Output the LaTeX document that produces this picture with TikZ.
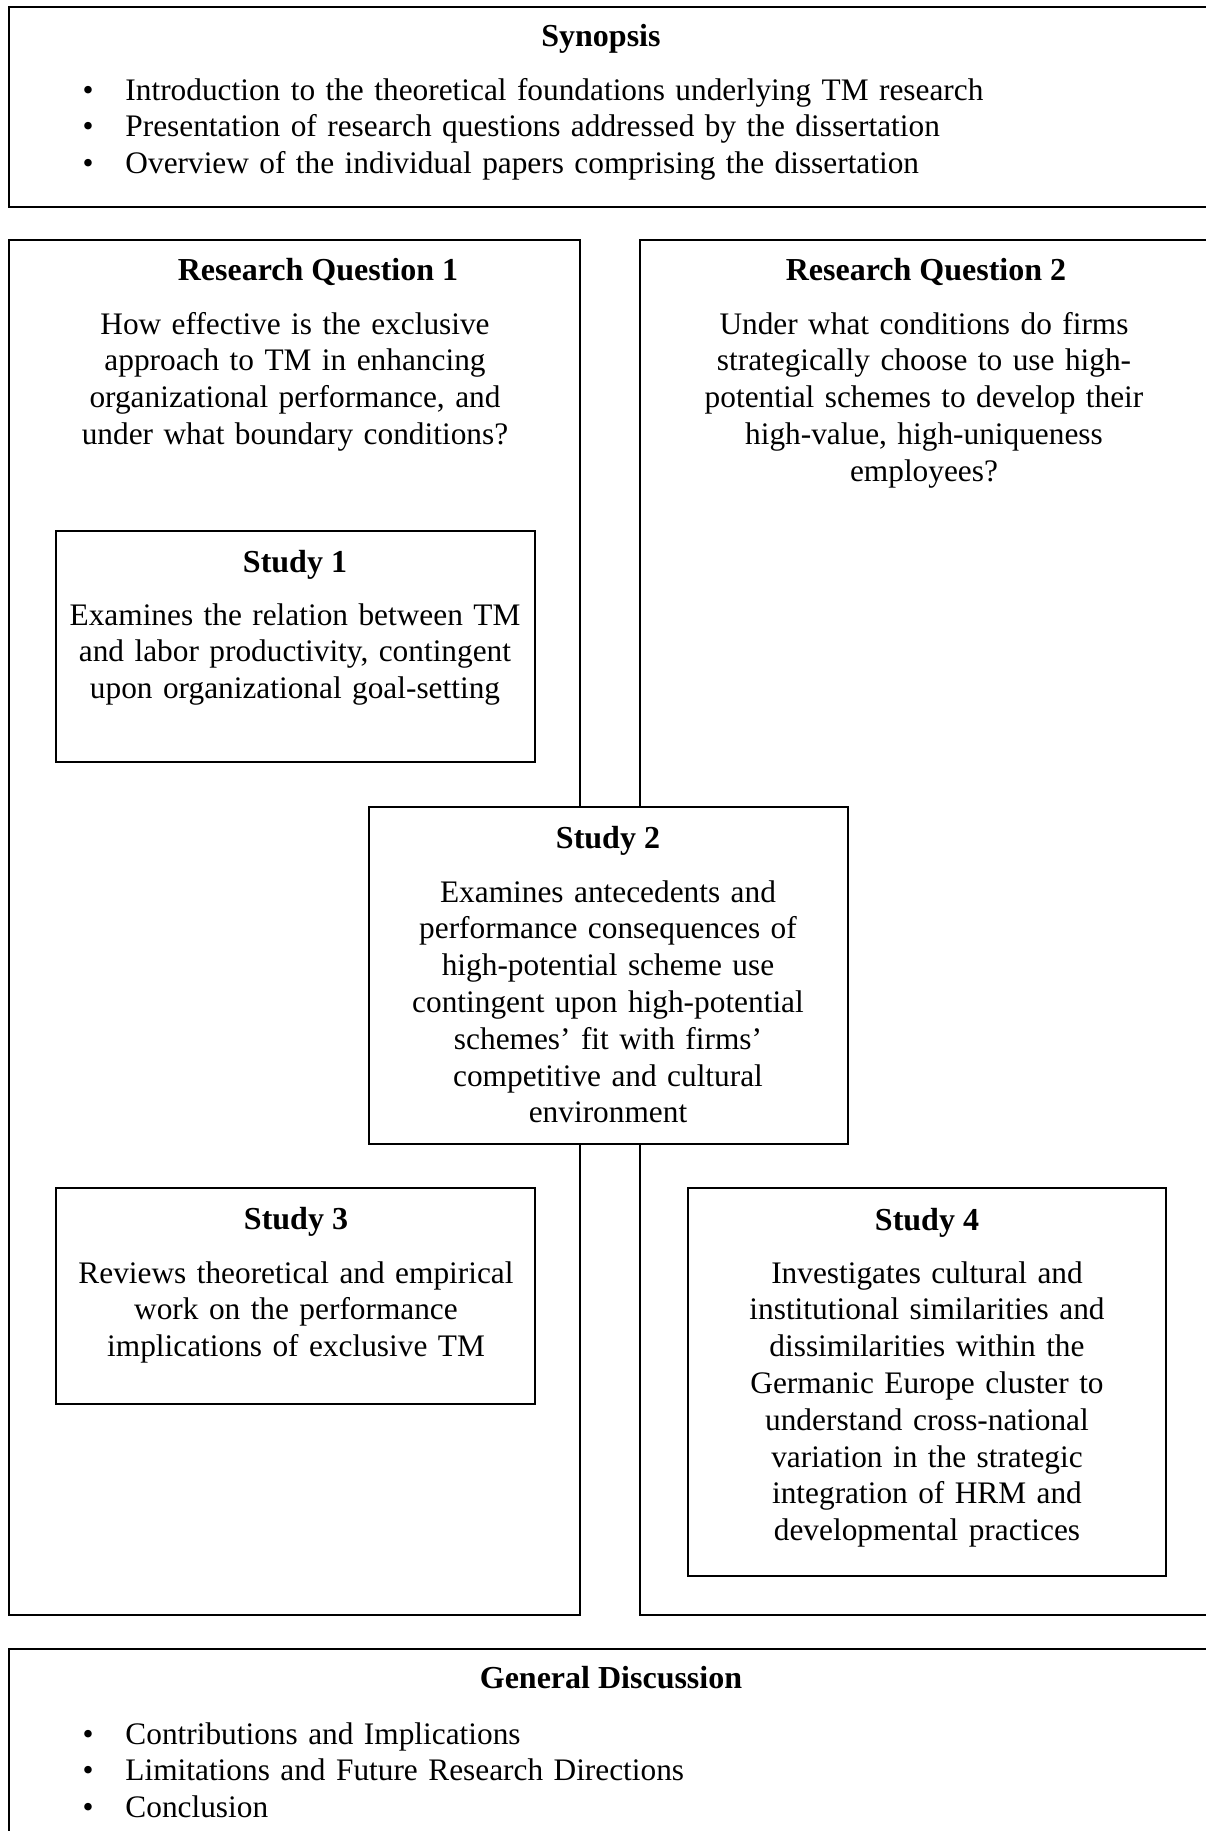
\documentclass[tikz,border=0pt]{standalone}
\usepackage{fontspec}
\setmainfont{Liberation Serif}
\usetikzlibrary{positioning}
\newcommand{\bitem}[1]{\makebox[16.1pt][l]{\textbullet}#1}
\begin{document}
\begin{tikzpicture}[x=0.375pt, y=-0.375pt,
    every node/.style={font=\fontsize{11.75pt}{13.8pt}\selectfont, inner sep=0pt},
    frame/.style={draw, line width=0.75pt},
    head/.style={font=\fontsize{12pt}{13.8pt}\selectfont\bfseries, anchor=base},
    txt/.style={text width=#1, align=center, anchor=base},
    list/.style={text width=420pt, align=left, anchor=base west}]
    \useasboundingbox (0,0) rectangle (1206,1831);
    % synopsis
    \draw[frame] (9,7) rectangle (1212,207);
    \node[head] (syn) at (601,47) {Synopsis};
    \node[list] (synlist) at (82,100) {\bitem{Introduction to the theoretical foundations underlying TM research}\\
        \bitem{Presentation of research questions addressed by the dissertation}\\
        \bitem{Overview of the individual papers comprising the dissertation}};
    % research questions
    \draw[frame] (9,240) rectangle (580,1615);
    \draw[frame] (640,240) rectangle (1212,1615);
    \node[head] (rq1) at (318,280) {Research Question 1};
    \node[txt=205pt] (rq1txt) at (295,334) {How effective is the exclusive\\
        approach to TM in enhancing\\ organizational performance, and\\
        under what boundary conditions?};
    \node[head] (rq2) at (926,280) {Research Question 2};
    \node[txt=205pt] (rq2txt) at (924,334) {Under what conditions do firms\\
        strategically choose to use high-\\ potential schemes to develop their\\
        high-value, high-uniqueness\\ employees?};
    % studies
    \draw[frame] (56,531) rectangle (535,762);
    \node[head] (s1) at (295,572) {Study 1};
    \node[txt=178pt] (s1txt) at (295,625) {Examines the relation between TM\\
        and labor productivity, contingent\\ upon organizational goal-setting};
    \draw[frame, fill=white] (369,807) rectangle (848,1144);
    \node[head] (s2) at (608,848) {Study 2};
    \node[txt=178pt] (s2txt) at (608,902) {Examines antecedents and\\
        performance consequences of\\ high-potential scheme use\\
        contingent upon high-potential\\ schemes’ fit with firms’\\
        competitive and cultural\\ environment};
    \draw[frame] (56,1188) rectangle (535,1404);
    \node[head] (s3) at (296,1229) {Study 3};
    \node[txt=178pt] (s3txt) at (296,1283) {Reviews theoretical and empirical\\
        work on the performance\\ implications of exclusive TM};
    \draw[frame] (688,1188) rectangle (1166,1576);
    \node[head] (s4) at (927,1230) {Study 4};
    \node[txt=178pt] (s4txt) at (927,1283) {Investigates cultural and\\
        institutional similarities and\\ dissimilarities within the\\
        Germanic Europe cluster to\\ understand cross-national\\
        variation in the strategic\\ integration of HRM and\\ developmental practices};
    % general discussion
    \draw[frame] (9,1649) rectangle (1212,1845);
    \node[head] (gd) at (611,1688) {General Discussion};
    \node[list] (gdlist) at (82,1744) {\bitem{Contributions and Implications}\\
        \bitem{Limitations and Future Research Directions}\\
        \bitem{Conclusion}};
\end{tikzpicture}
\end{document}
